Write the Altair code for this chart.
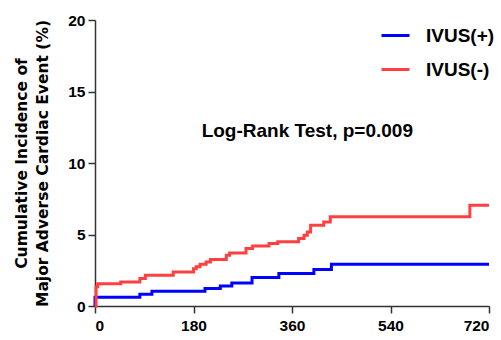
import altair as alt
import pandas as pd

# Follow-up days and cumulative incidence (%) for each group
blue_days = [0, 0, 82, 104, 201, 229, 250, 287, 336, 400, 432, 720]
blue_vals = [0, 0.61, 0.82, 1.03, 1.22, 1.40, 1.61, 1.99, 2.27, 2.55, 2.92, 2.92]

red_days = [0, 2, 5, 47, 82, 92, 143, 180, 185, 192, 203, 211, 240, 246, 276, 288,
            318, 334, 372, 382, 388, 394, 418, 430, 685, 720]
red_vals = [0, 1.35, 1.55, 1.68, 1.92, 2.15, 2.38, 2.6, 2.75, 2.92, 3.08, 3.25, 3.55, 3.71,
            4.02, 4.20, 4.37, 4.50, 4.72, 4.95, 5.18, 5.65, 5.88, 6.25, 7.05, 7.05]

groups = ["IVUS(+)", "IVUS(-)"]
colors = ["#0000FF", "#FF4040"]
x_ticks = [0, 180, 360, 540, 720]
y_ticks = [0, 5, 10, 15, 20]
annotation = "Log-Rank Test, p=0.009"
ann_x, ann_y = 388, 12.25

rows = [{"day": d, "inc": v, "group": groups[0], "o": i} for i, (d, v) in enumerate(zip(blue_days, blue_vals))]
rows += [{"day": d, "inc": v, "group": groups[1], "o": i} for i, (d, v) in enumerate(zip(red_days, red_vals))]
df = pd.DataFrame(rows)

FONT = "Liberation Sans"

lines = alt.Chart(df).mark_line(interpolate="step-after", strokeWidth=3).encode(
    x=alt.X("day:Q", scale=alt.Scale(domain=[0, 720], nice=False),
            axis=alt.Axis(values=x_ticks, title=None, labelPadding=5)),
    y=alt.Y("inc:Q", scale=alt.Scale(domain=[0, 20], nice=False),
            axis=alt.Axis(values=y_ticks,
                          title=["Cumulative Incidence of", "Major  Adverse Cardiac Event (%)"],
                          titleAngle=270, titleX=-73.5, titleY=143,
                          titleAlign="center", titleBaseline="middle",
                          titleLineHeight=21, labelPadding=3,
                          titleFont="DejaVu Sans", titleFontSize=15.5)),
    color=alt.Color("group:N", scale=alt.Scale(domain=groups, range=colors),
                    legend=alt.Legend(title=None, orient="none", legendX=285, legendY=0,
                                      symbolType="stroke", symbolSize=784,
                                      symbolStrokeWidth=3, labelOffset=15,
                                      rowPadding=8, padding=0,
                                      labelFontSize=19, labelFont=FONT,
                                      labelFontWeight="bold", labelColor="black")),
    order="o:Q",
)

text = alt.Chart(pd.DataFrame({"x": [ann_x], "y": [ann_y], "t": [annotation]})).mark_text(
    fontSize=19, font=FONT, fontWeight="bold", color="black", baseline="middle", align="center"
).encode(x="x:Q", y="y:Q", text="t:N")

chart = (lines + text).properties(
    width=394, height=286,
    autosize=alt.AutoSizeParams(type="none"),
    padding={"left": 95, "top": 20, "right": 12, "bottom": 34},
).configure_view(stroke=None).configure_axis(
    grid=False, domainColor="#333333", domainWidth=1.5, tickColor="#333333", tickWidth=1.5,
    tickSize=7, labelFont=FONT, labelFontSize=15.5, labelFontWeight="bold", labelColor="black",
    titleFontWeight="bold", titleColor="black",
)

chart.save("out.html", embed_options={"renderer": "svg", "actions": False})
